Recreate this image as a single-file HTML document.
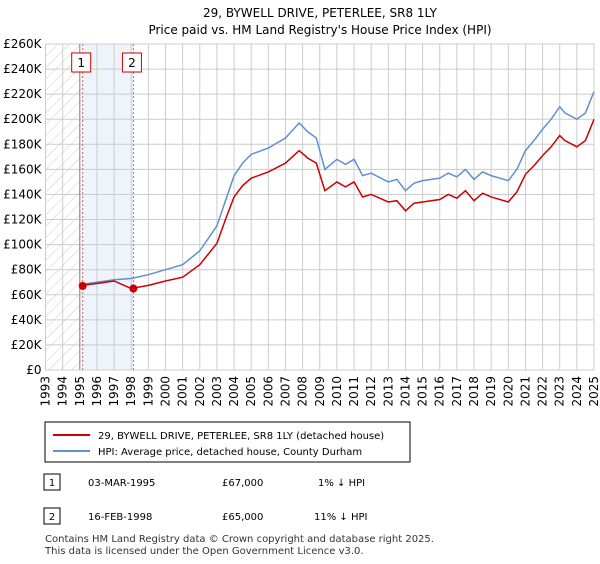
<!DOCTYPE html>
<html><head><meta charset="utf-8"><style>
body{margin:0;background:#fff;font-family:"DejaVu Sans",sans-serif;}
</style></head><body>
<svg width="600" height="560" xmlns="http://www.w3.org/2000/svg" font-family="DejaVu Sans, sans-serif">
<defs><pattern id="hatch" width="8" height="8" patternUnits="userSpaceOnUse" patternTransform="rotate(45)"><line x1="0" y1="0" x2="0" y2="8" stroke="#ccc" stroke-width="1"/></pattern></defs>
<text x="320" y="17" text-anchor="middle" font-size="12">29, BYWELL DRIVE, PETERLEE, SR8 1LY</text>
<text x="320" y="34" text-anchor="middle" font-size="12">Price paid vs. HM Land Registry's House Price Index (HPI)</text>
<g id="plot"></g>
<rect x="45" y="422" width="365" height="40" fill="#fff" stroke="#000"/>
<line x1="53" y1="435" x2="90" y2="435" stroke="#cc0000" stroke-width="2"/>
<text x="98" y="439" font-size="10">29, BYWELL DRIVE, PETERLEE, SR8 1LY (detached house)</text>
<line x1="53" y1="451" x2="90" y2="451" stroke="#6090d0" stroke-width="2"/>
<text x="98" y="455" font-size="10">HPI: Average price, detached house, County Durham</text>
<rect x="44" y="474" width="16" height="16" fill="#fff" stroke="#000"/>
<text x="52" y="486" text-anchor="middle" font-size="10">1</text>
<text x="88" y="486" font-size="10">03-MAR-1995</text>
<text x="222" y="486" font-size="10">£67,000</text>
<text x="318" y="486" font-size="10">1% ↓ HPI</text>
<rect x="44" y="508" width="16" height="16" fill="#fff" stroke="#000"/>
<text x="52" y="520" text-anchor="middle" font-size="10">2</text>
<text x="88" y="520" font-size="10">16-FEB-1998</text>
<text x="222" y="520" font-size="10">£65,000</text>
<text x="314" y="520" font-size="10">11% ↓ HPI</text>
<text x="45" y="542" font-size="10" fill="#333">Contains HM Land Registry data © Crown copyright and database right 2025.</text>
<text x="45" y="554" font-size="10" fill="#333">This data is licensed under the Open Government Licence v3.0.</text>
</svg>
<script>
const hpiYears=[1995,1996,1997,1998,1999,2000,2001,2002,2003,2003.5,2004,2004.5,2005,2006,2007,2007.8,2008.3,2008.8,2009.3,2010,2010.5,2011,2011.5,2012,2013,2013.5,2014,2014.5,2015,2016,2016.5,2017,2017.5,2018,2018.5,2019,2020,2020.5,2021,2021.5,2022,2022.5,2023,2023.3,2024,2024.5,2025];
const hpiValues=[68000,70000,72000,73000,76000,80000,84000,95000,115000,135000,155000,165000,172000,177000,185000,197000,190000,185000,160000,168000,164000,168000,155000,157000,150000,152000,143000,149000,151000,153000,157000,154000,160000,152000,158000,155000,151000,160000,175000,183000,192000,200000,210000,205000,200000,205000,222000];
const priceValues=[67500,69000,71000,65000,67500,71000,74000,84000,101000,120000,138000,147000,153000,158000,165000,175000,169000,165000,143000,150000,146000,150000,138000,140000,134000,135000,127000,133000,134000,136000,140000,137000,143000,135000,141000,138000,134000,142000,156000,163000,171000,178000,187000,183000,178000,183000,200000];
const sales=[[1995.17,67000],[1998.13,65000]];
const yTicks=[0,20000,40000,60000,80000,100000,120000,140000,160000,180000,200000,220000,240000,260000];
const xTicks=[1993,1994,1995,1996,1997,1998,1999,2000,2001,2002,2003,2004,2005,2006,2007,2008,2009,2010,2011,2012,2013,2014,2015,2016,2017,2018,2019,2020,2021,2022,2023,2024,2025];
const X0=45.5,X1=594,Y0=370,Y1=44;
const xs=t=>X0+(t-1993)/32*(X1-X0);
const ys=v=>Y0-v/260000*(Y0-Y1);
const NS="http://www.w3.org/2000/svg";
const g=document.getElementById('plot');
function mk(tag,attrs){const e=document.createElementNS(NS,tag);for(const k in attrs)e.setAttribute(k,attrs[k]);g.appendChild(e);return e;}
let e;
e=mk('rect',{x:X0,y:Y1,width:xs(sales[0][0])-X0,height:Y0-Y1,fill:'url(#hatch)'});


e=mk('rect',{x:xs(sales[0][0]),y:Y1,width:xs(sales[1][0])-xs(sales[0][0]),height:Y0-Y1,fill:'#eef3fc'});


yTicks.forEach(v=>{
 e=mk('line',{x1:X0,x2:X1,y1:ys(v),y2:ys(v),stroke:'#ccc'});
 
 
 e=mk('text',{x:X0-4,y:ys(v)+4,'text-anchor':'end','font-size':'12'});
 e.textContent=v===0?'£0':'£'+(v/1000)+'K';
 
 
});
xTicks.forEach(t=>{
 e=mk('line',{x1:xs(t),x2:xs(t),y1:Y1,y2:Y0,stroke:'#ccc'});
 
 
 e=mk('text',{x:0,y:0,'text-anchor':'end','font-size':'12',transform:`translate(${xs(t)+4},${Y0+6}) rotate(-90)`});
 e.textContent=t;
 
 
});
e=mk('line',{x1:xs(1995),x2:xs(1995),y1:Y1,y2:Y0,stroke:'#888'});


sales.forEach((s,i)=>{
 e=mk('line',{x1:xs(s[0]),x2:xs(s[0]),y1:Y1,y2:Y0,stroke:'#e06060','stroke-dasharray':'2,2'});
 
 
 e=mk('rect',{x:xs(s[0])-11,y:53,width:19,height:19,fill:'#fff',stroke:'#cc0000'});
 
 
 e=mk('text',{x:xs(s[0])-1.5,y:67,'text-anchor':'middle','font-size':'12'});
 e.textContent=String(i+1);
 
 
});
e=mk('path',{d:hpiYears.map((t,i)=>(i?'L':'M')+xs(t)+','+ys(hpiValues[i])).join(''),fill:'none',stroke:'#6090d0','stroke-width':1.5});


e=mk('path',{d:hpiYears.map((t,i)=>(i?'L':'M')+xs(t)+','+ys(priceValues[i])).join(''),fill:'none',stroke:'#cc0000','stroke-width':1.5});


sales.forEach((s,i)=>{
 e=mk('circle',{cx:xs(s[0]),cy:ys(s[1]),r:4,fill:'#cc0000'});
 
 
});
</script>
</body></html>
